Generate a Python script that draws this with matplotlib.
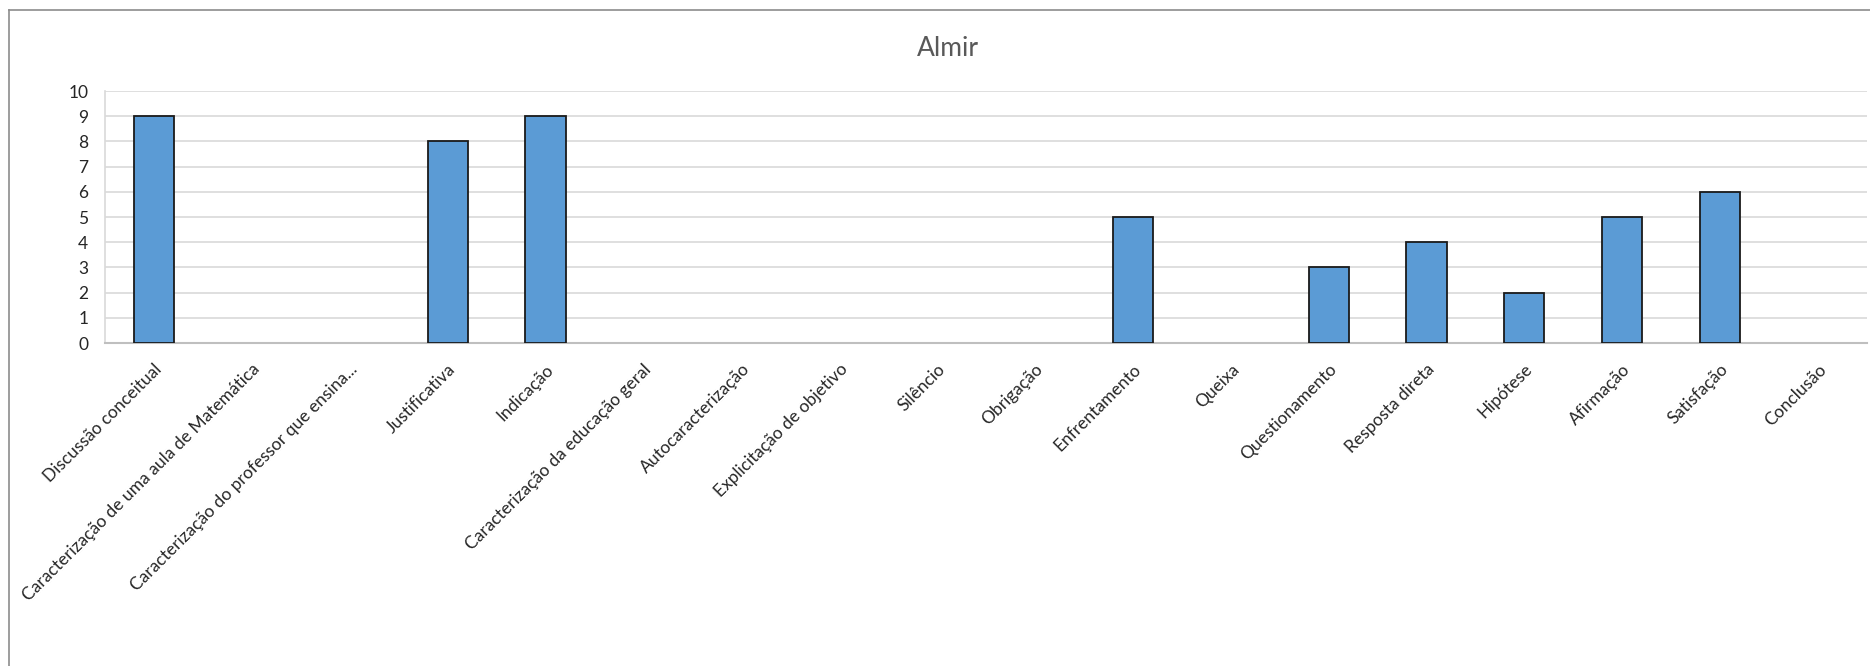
import matplotlib
matplotlib.use("Agg")
import matplotlib.pyplot as plt
from matplotlib.lines import Line2D
import numpy as np

categories = [
    "Discussão conceitual",
    "Caracterização de uma aula de Matemática",
    "Caracterização do professor que ensina...",
    "Justificativa",
    "Indicação",
    "Caracterização da educação geral",
    "Autocaracterização",
    "Explicitação de objetivo",
    "Silêncio",
    "Obrigação",
    "Enfrentamento",
    "Queixa",
    "Questionamento",
    "Resposta direta",
    "Hipótese",
    "Afirmação",
    "Satisfação",
    "Conclusão",
]
values = [9, 0, 0, 8, 9, 0, 0, 0, 0, 0, 5, 0, 3, 4, 2, 5, 6, 0]
yticks = list(range(0, 11))
title = "Almir"

plt.rcParams['font.family'] = ['Lato', 'DejaVu Sans']

W, H = 1870, 666
fig = plt.figure(figsize=(W / 100, H / 100), dpi=100)
fig.patch.set_facecolor("white")

ax = fig.add_axes([105 / W, 1 - 343 / H, (1867 - 105) / W, (343 - 91) / H])

x = np.arange(len(categories))
bars = ax.bar(x, values, width=0.41, color="#5B9BD5", edgecolor="#1a1a1a",
              linewidth=1.3, zorder=3)
for b, v in zip(bars, values):
    if v == 0:
        b.set_visible(False)

ax.set_xlim(-0.5, len(categories) - 0.5)
ax.set_ylim(0, 10)
ax.set_yticks(yticks)
ax.set_yticklabels([str(v) for v in yticks], fontsize=12.5, color="#262626")
ax.yaxis.grid(True, color="#d9d9d9", linewidth=1.2, zorder=0)
ax.set_axisbelow(True)

for s in ["top", "right"]:
    ax.spines[s].set_visible(False)
ax.spines["left"].set_color("#d9d9d9")
ax.spines["bottom"].set_color("#bfbfbf")
ax.spines["left"].set_linewidth(1.2)
ax.spines["bottom"].set_linewidth(1.5)

ax.tick_params(axis="y", length=0, pad=12)
ax.tick_params(axis="x", length=0, pad=13)
ax.set_xticks(x)
ax.set_xticklabels(categories, rotation=45, ha="right", va="top",
                   rotation_mode="anchor", fontsize=12.5, color="#262626")

fig.text(948 / W, 1 - 48 / H, title, ha="center", va="center",
         fontsize=19, color="#595959")

# outer chart frame
fig.add_artist(Line2D([9 / W, 1.0], [1 - 10 / H, 1 - 10 / H], transform=fig.transFigure,
                      color="#8c8c8c", linewidth=1.2))
fig.add_artist(Line2D([9 / W, 9 / W], [1 - 10 / H, 0.0], transform=fig.transFigure,
                      color="#8c8c8c", linewidth=1.2))

fig.savefig("out.png", dpi=100, facecolor="white")
